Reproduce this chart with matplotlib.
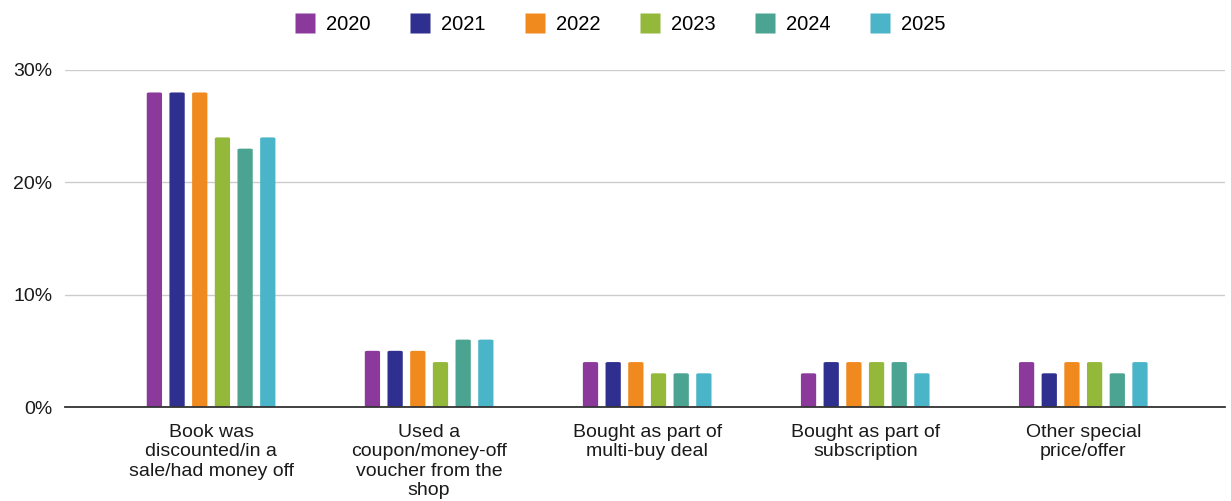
import matplotlib
matplotlib.use("Agg")
import matplotlib.pyplot as plt
import numpy as np
from matplotlib.patches import FancyBboxPatch
from matplotlib.lines import Line2D

plt.rcParams['font.family'] = ['Liberation Sans', 'DejaVu Sans']

categories = [
    "Book was\ndiscounted/in a\nsale/had money off",
    "Used a\ncoupon/money-off\nvoucher from the\nshop",
    "Bought as part of\nmulti-buy deal",
    "Bought as part of\nsubscription",
    "Other special\nprice/offer",
]
years = ["2020", "2021", "2022", "2023", "2024", "2025"]
values = {
    "2020": [28, 5, 4, 3, 4],
    "2021": [28, 5, 4, 4, 3],
    "2022": [28, 5, 4, 4, 4],
    "2023": [24, 4, 3, 4, 4],
    "2024": [23, 6, 3, 4, 3],
    "2025": [24, 6, 3, 3, 4],
}
colors = ["#8b3a9c", "#2e2f8f", "#f08a1e", "#94b93a", "#4ba391", "#4ab5c8"]
yticks = [0, 10, 20, 30]
ytick_labels = ["0%", "10%", "20%", "30%"]

fig = plt.figure(figsize=(12.31, 5.01), dpi=100)
ax = fig.add_axes([65 / 1231, 1 - 407 / 501, 1160 / 1231, (407 - 70) / 501])

x = np.arange(len(categories))
pitch = 0.104
width = 0.07
for i, (yr, col) in enumerate(zip(years, colors)):
    offs = (i - 2.5) * pitch
    for xi, v in zip(x, values[yr]):
        patch = FancyBboxPatch((xi + offs - width / 2, 0), width, v,
                               boxstyle="round,pad=0,rounding_size=0.012",
                               mutation_aspect=8,
                               facecolor=col, edgecolor="none", zorder=3)
        ax.add_patch(patch)

ax.set_xlim(-0.67, 4.65)
ax.set_ylim(0, 30)
ax.set_yticks(yticks)
ax.set_yticklabels(ytick_labels, fontsize=14, color="#1a1a1a")
ax.set_xticks(x)
ax.set_xticklabels(categories, fontsize=14, color="#1a1a1a", linespacing=1.2)
ax.tick_params(axis="both", length=0)
ax.tick_params(axis="y", pad=9)
ax.tick_params(axis="x", pad=12)
ax.grid(axis="y", color="#cccccc", linewidth=1, zorder=0)
for s in ["top", "right", "left"]:
    ax.spines[s].set_visible(False)
ax.spines["bottom"].set_color("#333333")
ax.spines["bottom"].set_linewidth(1.3)
ax.spines["bottom"].set_zorder(4)

handles = [Line2D([], [], linestyle="none", marker="s", markersize=14,
                  markerfacecolor=c, markeredgecolor="none") for c in colors]
fig.legend(handles, years, loc="center", bbox_to_anchor=(620 / 1231, 1 - 25 / 501),
           ncol=6, frameon=False, fontsize=14.5, handletextpad=0.55,
           columnspacing=1.95, handlelength=1.0)

fig.savefig("out.png", dpi=100, facecolor="white")
